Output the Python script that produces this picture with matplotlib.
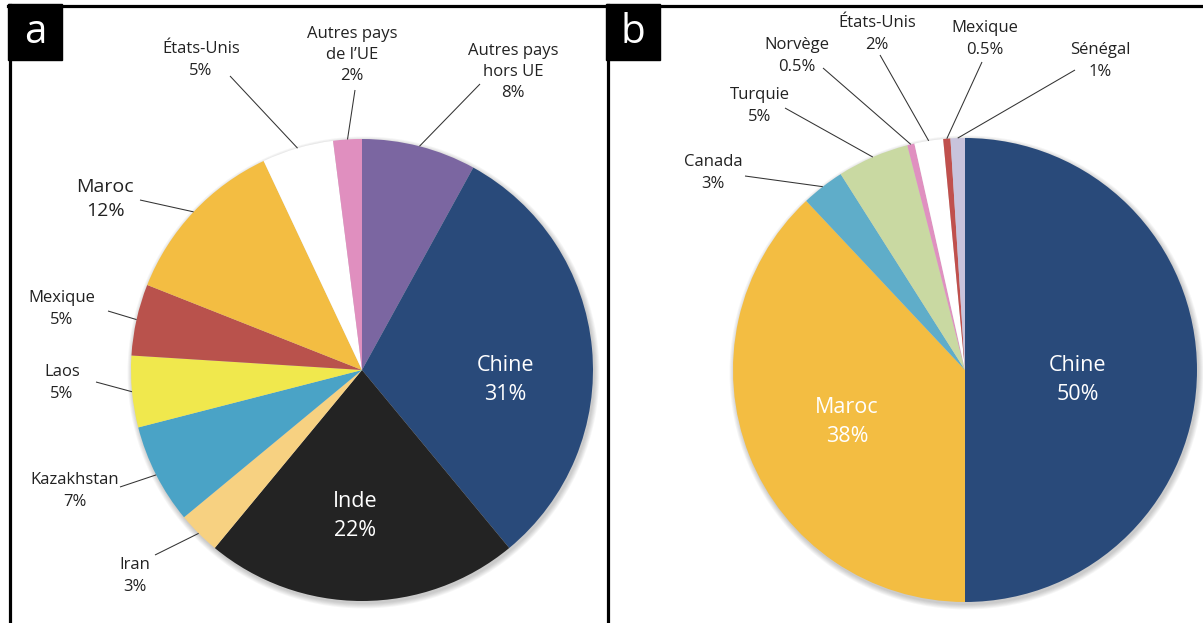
import matplotlib
matplotlib.use('Agg')
import matplotlib.pyplot as plt
import numpy as np
from matplotlib.patches import Rectangle, Circle

plt.rcParams['font.family'] = ['Open Sans', 'DejaVu Sans']

# ---------------- data ----------------
labels_a = ['Autres pays\nhors UE', 'Chine', 'Inde', 'Iran', 'Kazakhstan', 'Laos',
            'Mexique', 'Maroc', 'États-Unis', 'Autres pays\nde l’UE']
values_a = [8, 31, 22, 3, 7, 5, 5, 12, 5, 2]
colors_a = ['#7b66a1', '#294a7a', '#232323', '#f7d181', '#4aa3c6', '#f0e84d',
            '#b9524c', '#f3bd42', '#ffffff', '#e08fbf']

labels_b = ['Chine', 'Maroc', 'Canada', 'Turquie', 'Norvège', 'États-Unis', 'Mexique', 'Sénégal']
values_b = [50, 38, 3, 5, 0.5, 2, 0.5, 1]
colors_b = ['#294a7a', '#f3bd42', '#5fadc9', '#c9d9a2', '#e090c0', '#ffffff', '#c0504d', '#c8c3dc']

# ---------------- layout (pixel coords, y from top) ----------------
W, H = 1203, 623
center_a, R_a = (362, 370), 231
center_b, R_b = (965, 370), 232

SM, BG, IN = 12, 14, 15.5
DK = '#222222'
# label block centre, leader start (None = inside), font size, colour
layout_a = [
    ((513, 72), (480, 84), SM, DK),
    ((505, 380), None, IN, 'white'),
    ((355, 516), None, IN, 'white'),
    ((135, 576), (155, 555), SM, DK),
    ((75, 491), (120, 487), SM, DK),
    ((62, 383), (96, 382), SM, DK),
    ((62, 309), (108, 311), SM, DK),
    ((105, 199), (140, 200), BG, DK),
    ((201, 60), (230, 76), SM, DK),
    ((352, 55), (355, 90), SM, DK),
]
layout_b = [
    ((1078, 380), None, IN, 'white'),
    ((847, 422), None, IN, 'white'),
    ((713, 173), (745, 176), SM, DK),
    ((760, 106), (785, 108), SM, DK),
    ((797, 56), (823, 68), SM, DK),
    ((877, 34), (880, 55), SM, DK),
    ((985, 39), (982, 62), SM, DK),
    ((1100, 61), (1075, 70), SM, DK),
]


def fy(y):
    return H - y


def pct(v):
    return f'{v:g}%'


fig = plt.figure(figsize=(W / 100, H / 100), dpi=100)
ax = fig.add_axes([0, 0, 1, 1])


def draw_pie(values, colors, labels, layout, center, R):
    cx, cy = center[0], fy(center[1])
    # soft shadow
    for i in range(6):
        ax.add_patch(Circle((cx + 1.5, cy - 2.5), R + 0.5 + i * 0.9,
                            color='black', alpha=0.035, lw=0, zorder=1))
    wedges, _ = ax.pie(values, colors=colors, startangle=90, counterclock=False,
                       center=(cx, cy), radius=R,
                       wedgeprops=dict(linewidth=0, zorder=2))
    for w in wedges:
        w.set_zorder(2)
    total = float(sum(values))
    cum = 0.0
    for v, lab, (tpos, lstart, fs, col) in zip(values, labels, layout):
        mid = (cum + v / 2) / total * 360.0
        cum += v
        theta = np.deg2rad(90 - mid)
        ex, ey = cx + R * np.cos(theta), cy + R * np.sin(theta)
        ax.text(tpos[0], fy(tpos[1]), f'{lab}\n{pct(v)}', ha='center', va='center',
                multialignment='center', fontsize=fs, color=col, zorder=5,
                linespacing=1.45)
        if lstart is not None:
            ax.plot([lstart[0], ex], [fy(lstart[1]), ey], color='#333333',
                    lw=0.75, zorder=4, solid_capstyle='butt')


draw_pie(values_a, colors_a, labels_a, layout_a, center_a, R_a)
draw_pie(values_b, colors_b, labels_b, layout_b, center_b, R_b)

# panel frames
lw = 2.3
ax.plot([9.5, 9.5], [fy(5), fy(H + 5)], color='black', lw=lw, zorder=6)
ax.plot([607.5, 607.5], [fy(5), fy(H + 5)], color='black', lw=lw, zorder=6)
ax.plot([8, W + 5], [fy(6), fy(6)], color='black', lw=lw, zorder=6)

# panel letters
for x0, letter in [(8, 'a'), (606, 'b')]:
    ax.add_patch(Rectangle((x0, fy(60)), 54, 56, color='black', zorder=6))
    ax.text(x0 + 27, fy(33), letter, ha='center', va='center', color='white',
            fontsize=29, zorder=7)

ax.set_xlim(0, W)
ax.set_ylim(0, H)
ax.set_aspect('equal', adjustable='box')
ax.axis('off')

fig.savefig('out.png', dpi=100, facecolor='white')
